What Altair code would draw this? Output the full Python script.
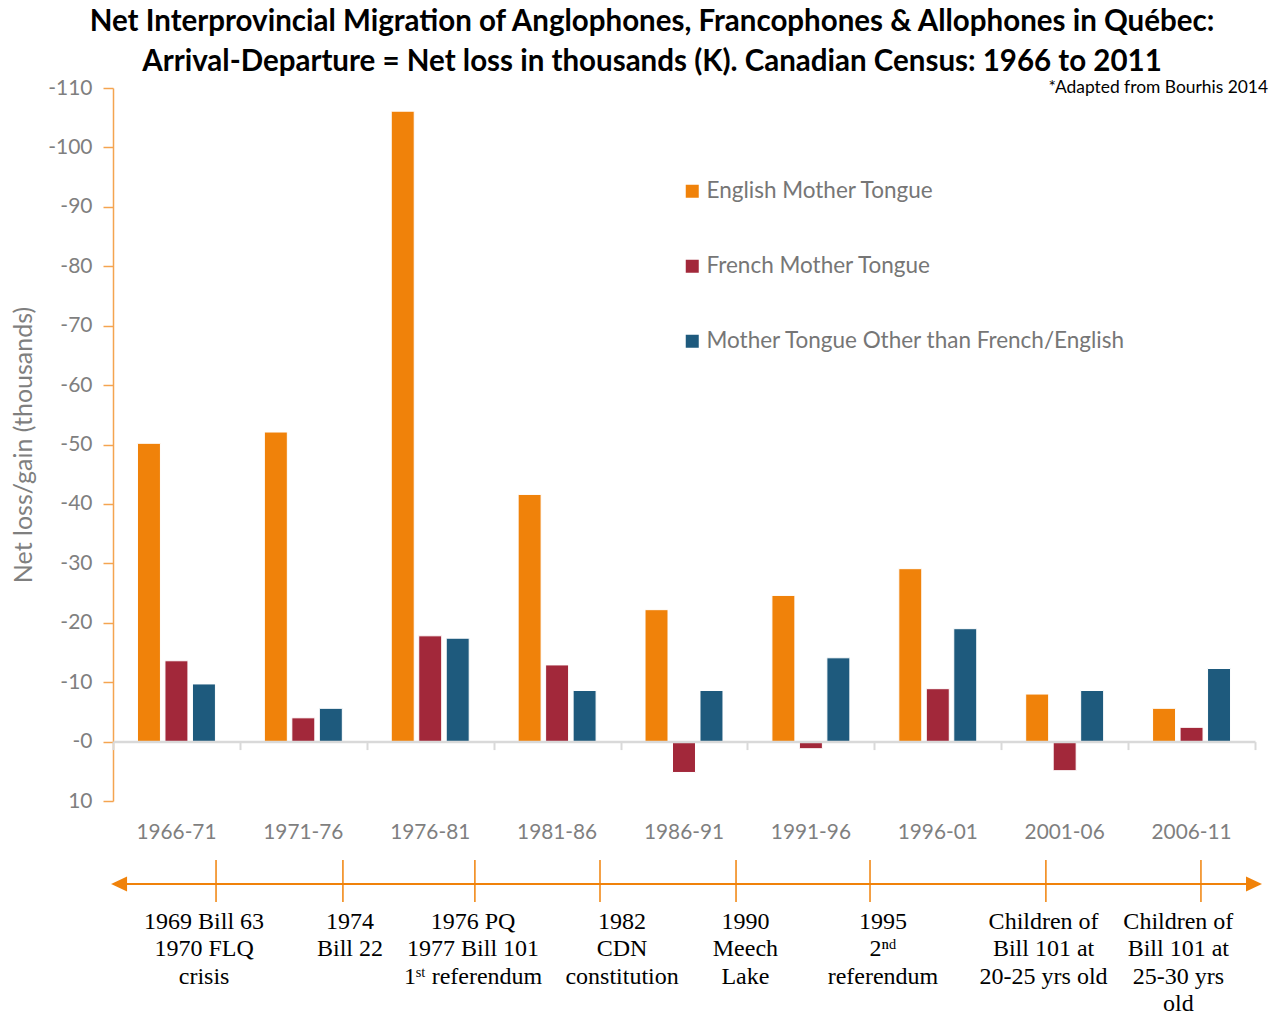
import altair as alt
import pandas as pd

# ---------------- data ----------------
periods = ["1966-71", "1971-76", "1976-81", "1981-86", "1986-91",
           "1991-96", "1996-01", "2001-06", "2006-11"]
english = [-50.2, -52.1, -106.1, -41.6, -22.2, -24.6, -29.1, -8.0, -5.6]
french = [-13.6, -4.0, -17.8, -12.9, 5.2, 1.2, -8.9, 4.9, -2.4]
other = [-9.7, -5.6, -17.4, -8.6, -8.6, -14.1, -19.0, -8.6, -12.3]

series_names = ["English Mother Tongue", "French Mother Tongue",
                "Mother Tongue Other than French/English"]
series_colors = ["#F0820A", "#A2283A", "#1E5A7D"]

y_ticks = list(range(-110, 11, 10))

# timeline (positions expressed as years)
timeline_years = [1966.24, 2010.96]          # arrow centres (left, right)
event_tick_year = [1970.06, 1975.06, 1980.26, 1985.19, 1990.55, 1995.83, 2002.76, 2008.87]
event_label_year = [1969.59, 1975.34, 1980.19, 1986.06, 1990.92, 1996.34, 2002.67, 2007.98]
event_labels = [
    ["1969 Bill 63", "1970 FLQ", "crisis"],
    ["1974", "Bill 22"],
    ["1976 PQ", "1977 Bill 101", "1ˢᵗ referendum"],
    ["1982", "CDN", "constitution"],
    ["1990", "Meech", "Lake"],
    ["1995", "2ⁿᵈ", "referendum"],
    ["Children of", "Bill 101 at", "20-25 yrs old"],
    ["Children of", "Bill 101 at", "25-30 yrs", "old"],
]

title_lines = [
    "Net Interprovincial Migration of Anglophones, Francophones & Allophones in Québec:",
    "Arrival-Departure = Net loss in thousands (K). Canadian Census: 1966 to 2011",
]
note_text = "*Adapted from Bourhis 2014"

# ---------------- layout ----------------
W, H = 1142, 713
ORANGE = "#F0820A"
AXIS_ORANGE = "#F4A450"
GRAY_TXT = "#7f7f7f"
FONT = "Lato"

rows = []
for i, p in enumerate(periods):
    for name, vals in zip(series_names, [english, french, other]):
        rows.append({"period": p, "series": name, "value": vals[i]})
df = pd.DataFrame(rows)

x_band = alt.Scale(paddingInner=0, paddingOuter=0)
y_scale = alt.Scale(domain=[-110, 10], reverse=True, nice=False)

bars = alt.Chart(df).mark_bar(stroke="white", strokeWidth=1).encode(
    x=alt.X("period:N", sort=periods, scale=x_band,
            axis=alt.Axis(title=None, domain=False, ticks=False, tickSize=0,
                          labelAngle=0, labelFont=FONT, labelFontSize=20.8,
                          labelColor=GRAY_TXT, labelPadding=21)),
    xOffset=alt.XOffset("series:N", sort=series_names,
                        scale=alt.Scale(paddingInner=0.164, paddingOuter=0.89)),
    y=alt.Y("value:Q", stack=None, scale=y_scale,
            axis=alt.Axis(title="Net loss/gain (thousands)", values=y_ticks,
                          labelExpr="datum.value <= 0 ? '-' + abs(datum.value) : '' + datum.value",
                          grid=False, domainColor=AXIS_ORANGE, tickColor=AXIS_ORANGE,
                          domainWidth=1.5, tickWidth=1.5, tickSize=10,
                          labelFont=FONT, labelFontSize=21, labelColor=GRAY_TXT,
                          labelPadding=11, titleFont=FONT, titleFontSize=25,
                          titleFontWeight="normal", titleColor=GRAY_TXT, titlePadding=11)),
    color=alt.Color("series:N", sort=series_names,
                    scale=alt.Scale(domain=series_names, range=series_colors),
                    legend=alt.Legend(title=None, orient="none", legendX=568, legendY=92,
                                      direction="vertical", symbolType="square",
                                      symbolSize=169, symbolStrokeWidth=0,
                                      labelFont=FONT, labelFontSize=22.5, labelColor="#767676",
                                      rowPadding=52, labelOffset=3, labelLimit=600)),
)

# zero baseline with band-boundary ticks (axis drawn at value 0)
base = alt.Chart(pd.DataFrame({"period": periods})).mark_point(opacity=0).encode(
    x=alt.X("period:N", sort=periods, scale=x_band,
            axis=alt.Axis(title=None, labels=False, orient="bottom", offset=-H * 10 / 120,
                          domainColor="#D9D9D9", domainWidth=2.5, tickColor="#D9D9D9",
                          tickWidth=2, tickSize=8, tickBand="extent", zindex=1)),
)

tl_scale = alt.Scale(domain=[1966, 2011], zero=False, nice=False)

tl_line = alt.Chart(pd.DataFrame({"x1": [timeline_years[0]], "x2": [timeline_years[1]]})).mark_rule(
    color=ORANGE, strokeWidth=2).encode(
    x=alt.X("x1:Q", scale=tl_scale, axis=None), x2="x2:Q", y=alt.value(H + 83))

tl_arrows = alt.Chart(pd.DataFrame({"x": timeline_years,
                                    "shape": ["M -1 0 L 1 -0.94 L 1 0.94 Z",
                                              "M 1 0 L -1 -0.94 L -1 0.94 Z"]})).mark_point(
    filled=True, color=ORANGE, opacity=1, size=256, strokeWidth=0).encode(
    x=alt.X("x:Q", scale=tl_scale, axis=None), y=alt.value(H + 83),
    shape=alt.Shape("shape:N", scale=None))

tl_ticks = alt.Chart(pd.DataFrame({"x": event_tick_year})).mark_rule(
    color=ORANGE, strokeWidth=1.5).encode(
    x=alt.X("x:Q", scale=tl_scale, axis=None), y=alt.value(H + 59), y2=alt.value(H + 101))

tl_text = alt.Chart(pd.DataFrame({"x": event_label_year, "t": event_labels})).mark_text(
    font="Liberation Serif", fontSize=24, lineHeight=27.3, baseline="top", align="center",
    color="black").encode(
    x=alt.X("x:Q", scale=tl_scale, axis=None), y=alt.value(H + 109), text="t")

note = alt.Chart(pd.DataFrame({"t": [note_text]})).mark_text(
    align="right", baseline="middle", font=FONT, fontSize=17.4, color="black").encode(
    x=alt.value(W + 13), y=alt.value(0), text="t:N")

chart = alt.layer(bars, base, tl_line, tl_arrows, tl_ticks, tl_text, note).resolve_scale(
    x="independent").properties(
    width=W, height=H,
    title=alt.TitleParams(text=title_lines, font=FONT, fontSize=29.5, fontWeight="bold",
                          color="black", anchor="middle", dx=-32, lineHeight=40, offset=0),
    padding={"left": 105, "top": 80, "right": 17, "bottom": 212},
    autosize=alt.AutoSizeParams(type="none"),
).configure_view(stroke=None)

chart.save("out.html", embed_options={"renderer": "svg", "actions": False})
